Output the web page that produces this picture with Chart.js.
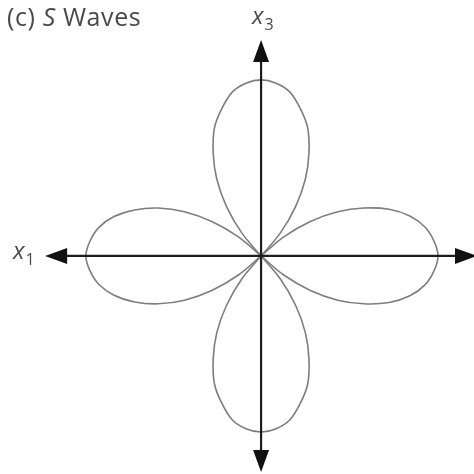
<!DOCTYPE html>
<html>
<head>
<meta charset="utf-8">
<script src="https://cdn.jsdelivr.net/npm/chart.js@4"></script>
<style>
  body { margin: 0; background: #fff; }
  #wrap { position: relative; width: 474px; height: 474px; }
  .lbl { position: absolute; font-family: 'Open Sans', sans-serif; color: #4a4a4a; white-space: nowrap; line-height: 1; }
  #title { left: 7px; top: 4px; font-size: 25px; letter-spacing: 0.6px; }
  .ax { font-size: 24px; }
  .ax i { font-style: italic; }
  .ax sub { font-size: 16px; vertical-align: -6px; margin-left: 1px; }
  #lx1 { left: 13px; top: 238px; }
  #lx3 { left: 252px; top: 3px; }
</style>
</head>
<body>
<div id="wrap">
  <canvas id="c" width="474" height="474"></canvas>
  <div class="lbl" id="title">(c) <i>S</i> Waves</div>
  <div class="lbl ax" id="lx1"><i>x</i><sub>1</sub></div>
  <div class="lbl ax" id="lx3"><i>x</i><sub>3</sub></div>
</div>
<script>
// angle offsets (deg) across one lobe, measured from the lobe's own axis
const offsets = [-45,-40,-35,-30,-25,-20,-15,-10,-5,0,5,10,15,20,25,30,35,40,45];

// lobe radii read along each offset (1 = tip of lobe)
const rightLobe  = [0,0.17,0.34,0.50,0.64,0.77,0.87,0.94,0.98,1.00,0.98,0.94,0.87,0.77,0.64,0.50,0.34,0.17,0];
const topLobe    = [0,0.17,0.34,0.50,0.64,0.77,0.86,0.94,0.98,0.995,0.98,0.94,0.86,0.77,0.64,0.50,0.34,0.17,0];
const leftLobe   = [0,0.17,0.34,0.50,0.64,0.76,0.86,0.93,0.97,0.99,0.97,0.93,0.86,0.76,0.64,0.50,0.34,0.17,0];
const bottomLobe = [0,0.17,0.34,0.50,0.64,0.77,0.86,0.94,0.98,0.995,0.98,0.94,0.86,0.77,0.64,0.50,0.34,0.17,0];

const lobeAxes = [0, 90, 180, 270];
const lobes = [rightLobe, topLobe, leftLobe, bottomLobe];

// axis arrows run out to this length on each side
const axisReach = 1.22;

function toXY(axisDeg, radii) {
  return radii.map((r, i) => {
    const a = (axisDeg + offsets[i]) * Math.PI / 180;
    return { x: r * Math.cos(a), y: r * Math.sin(a) };
  });
}

const datasets = lobes.map((radii, k) => ({
  data: toXY(lobeAxes[k], radii),
  showLine: true,
  borderColor: '#7d7d7d',
  borderWidth: 1.6,
  pointRadius: 0,
  tension: 0.35,
  fill: false
}));

// cross axes with arrowheads at both ends
const axesPlugin = {
  id: 'crossAxes',
  afterDatasetsDraw(chart) {
    const { ctx, scales: { x, y } } = chart;
    const x0 = x.getPixelForValue(0), y0 = y.getPixelForValue(0);
    const L = x.getPixelForValue(-axisReach), R = x.getPixelForValue(axisReach);
    const T = y.getPixelForValue(axisReach), B = y.getPixelForValue(-axisReach);
    const len = 22, half = 8;
    ctx.save();
    ctx.strokeStyle = '#1c1c1c';
    ctx.fillStyle = '#111';
    ctx.lineWidth = 2.2;
    ctx.beginPath();
    ctx.moveTo(L + len - 2, y0); ctx.lineTo(R - len + 2, y0);
    ctx.moveTo(x0, T + len - 2); ctx.lineTo(x0, B - len + 2);
    ctx.stroke();
    const tri = (tx, ty, dx, dy) => {
      ctx.beginPath();
      ctx.moveTo(tx, ty);
      ctx.lineTo(tx - dx * len - dy * half, ty - dy * len + dx * half);
      ctx.lineTo(tx - dx * len + dy * half, ty - dy * len - dx * half);
      ctx.closePath();
      ctx.fill();
    };
    tri(L, y0, -1, 0);
    tri(R, y0, 1, 0);
    tri(x0, T, 0, -1);
    tri(x0, B, 0, 1);
    ctx.restore();
  }
};

new Chart(document.getElementById('c'), {
  type: 'scatter',
  data: { datasets },
  options: {
    responsive: false,
    animation: false,
    layout: { padding: 0 },
    scales: {
      x: { type: 'linear', min: -1.475, max: 1.203, display: false },
      y: { type: 'linear', min: -1.232, max: 1.446, display: false }
    },
    plugins: { legend: { display: false }, tooltip: { enabled: false }, title: { display: false } }
  },
  plugins: [axesPlugin]
});
</script>
</body>
</html>
